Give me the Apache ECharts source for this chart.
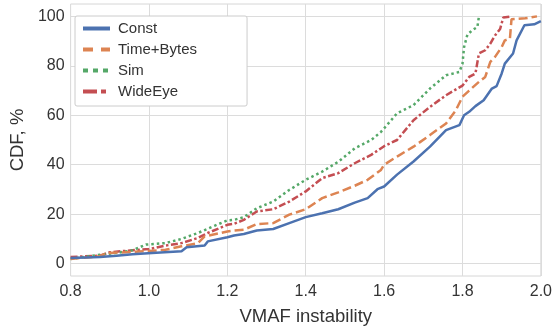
<!DOCTYPE html>
<html>
<head>
<meta charset="utf-8">
<script src="https://cdn.jsdelivr.net/npm/echarts@6/dist/echarts.min.js"></script>
<style>
html,body{margin:0;padding:0;background:#fff;}
#chart{width:555px;height:332px;}
</style>
</head>
<body>
<div id="chart"></div>
<script>
// ---- data ----
var seriesNames = ['Const', 'Time+Bytes', 'Sim', 'WideEye'];

var constX = [0.8, 0.875, 0.917, 0.958, 1.008, 1.083, 1.096, 1.142, 1.15, 1.2, 1.217, 1.242, 1.275, 1.317, 1.358, 1.4, 1.442, 1.483, 1.525, 1.558, 1.583, 1.6, 1.633, 1.675, 1.717, 1.758, 1.792, 1.804, 1.817, 1.833, 1.854, 1.875, 1.887, 1.9, 1.908, 1.929, 1.938, 1.958, 1.983, 2.0];
var constY = [2.3, 2.7, 3.2, 3.8, 4.3, 5.0, 6.6, 7.3, 9.0, 10.7, 11.4, 12.0, 13.4, 14.0, 16.4, 18.8, 20.4, 22.0, 24.7, 26.5, 30.1, 31.2, 36.0, 41.3, 47.3, 54.0, 56.0, 60.0, 61.4, 63.7, 66.1, 70.8, 71.8, 76.9, 80.9, 85.0, 90.3, 96.4, 96.8, 98.1];

var tbX = [0.8, 0.875, 0.892, 0.958, 1.042, 1.083, 1.125, 1.142, 1.2, 1.217, 1.242, 1.275, 1.317, 1.358, 1.4, 1.442, 1.483, 1.525, 1.558, 1.592, 1.6, 1.633, 1.675, 1.717, 1.758, 1.783, 1.8, 1.817, 1.842, 1.858, 1.871, 1.883, 1.9, 1.908, 1.921, 1.925, 1.96, 1.99];
var tbY = [1.9, 3.0, 4.3, 4.7, 5.6, 7.0, 8.3, 11.0, 13.0, 13.4, 13.7, 16.0, 16.4, 19.8, 22.0, 26.5, 28.8, 31.5, 33.9, 37.9, 40.0, 43.3, 47.3, 52.0, 56.7, 62.0, 67.5, 70.0, 73.5, 75.5, 81.6, 83.6, 87.6, 90.3, 91.0, 98.8, 99.2, 100];

var simX = [0.8, 0.875, 0.917, 0.958, 0.992, 1.042, 1.083, 1.125, 1.167, 1.2, 1.217, 1.242, 1.275, 1.317, 1.358, 1.4, 1.442, 1.483, 1.525, 1.567, 1.592, 1.6, 1.633, 1.675, 1.717, 1.758, 1.792, 1.8, 1.804, 1.8125, 1.825, 1.838, 1.842];
var simY = [1.9, 3.6, 4.3, 5.4, 7.7, 8.3, 10.0, 12.4, 15.3, 17.5, 17.7, 18.8, 22.4, 25.1, 29.8, 33.9, 37.2, 41.2, 46.6, 50.0, 53.3, 54.7, 60.8, 64.1, 70.8, 76.2, 77.5, 80.9, 87.6, 92.6, 94.4, 95.7, 100];

var weX = [0.8, 0.875, 0.9, 0.958, 1.0, 1.042, 1.083, 1.125, 1.15, 1.2, 1.217, 1.242, 1.275, 1.317, 1.358, 1.4, 1.442, 1.483, 1.525, 1.567, 1.6, 1.633, 1.675, 1.717, 1.758, 1.8, 1.817, 1.833, 1.842, 1.858, 1.871, 1.883, 1.896, 1.904, 1.908, 1.925];
var weY = [2.7, 3.2, 4.6, 5.4, 5.9, 7.3, 8.3, 10.4, 12.4, 15.7, 16.1, 17.7, 21.1, 22.0, 25.1, 29.2, 34.6, 36.6, 40.6, 44.0, 47.5, 50.0, 58.0, 63.4, 68.1, 72.0, 75.5, 76.9, 85.0, 86.3, 89.0, 92.3, 94.9, 99.5, 100, 100];

var xTicks = [0.8, 1.0, 1.2, 1.4, 1.6, 1.8, 2.0];
var yTicks = [0, 20, 40, 60, 80, 100];

// ---- build ----
function pairs(xs, ys) { return xs.map(function (x, i) { return [x, ys[i]]; }); }

var colors = ['#4C72B0', '#DD8452', '#55A868', '#C44E52'];
var dashes = ['solid', [9, 4], [2.5, 3], [7, 2.5, 2.5, 2.5]];
var legendDashes = ['solid', [10, 8], [5, 5], [14, 4, 5, 4]];
var xsList = [constX, tbX, simX, weX];
var ysList = [constY, tbY, simY, weY];

var font = '"Liberation Sans", Arial, Helvetica, sans-serif';
var textColor = '#333333';

var series = seriesNames.map(function (name, i) {
  return {
    name: name,
    type: 'line',
    data: pairs(xsList[i], ysList[i]),
    showSymbol: false,
    symbol: 'none',
    lineStyle: { color: colors[i], width: 2.5, type: dashes[i], cap: 'butt' },
    itemStyle: { color: colors[i] },
    z: 10 - i,
    animation: false
  };
});

var legendData = seriesNames.map(function (name, i) {
  return {
    name: name,
    itemStyle: { opacity: 0, borderWidth: 0 },
    lineStyle: { color: colors[i], width: 4, type: legendDashes[i], cap: 'butt' }
  };
});

var chart = echarts.init(document.getElementById('chart'), null, { renderer: 'canvas' });
chart.setOption({
  animation: false,
  backgroundColor: '#ffffff',
  grid: {
    left: 63, right: 12, top: 4, bottom: 56,
    show: true, borderColor: '#d6d6d6', borderWidth: 1, backgroundColor: 'transparent'
  },
  legend: {
    orient: 'vertical',
    left: 75, top: 16,
    data: legendData,
    itemWidth: 27, itemHeight: 12, itemGap: 6,
    padding: [5, 50, 7, 6],
    backgroundColor: '#ffffff',
    borderColor: '#cccccc', borderWidth: 1, borderRadius: 2,
    itemStyle: { opacity: 0, borderWidth: 0 },
    textStyle: { fontFamily: font, fontSize: 15, color: textColor, padding: [0, 0, 0, 3] },
    inactiveColor: '#ccc'
  },
  xAxis: {
    type: 'value',
    min: 0.8, max: 2.0, interval: 0.2,
    name: 'VMAF instability',
    nameLocation: 'middle', nameGap: 31,
    nameTextStyle: { fontFamily: font, fontSize: 18.5, color: textColor },
    axisLine: { show: false },
    axisTick: { show: false },
    axisLabel: {
      fontFamily: font, fontSize: 16, color: textColor, margin: 8,
      formatter: function (v) { return v.toFixed(1); }
    },
    splitLine: { show: true, lineStyle: { color: '#dcdcdc', width: 1 } }
  },
  yAxis: {
    type: 'value',
    min: -5, max: 105,
    name: 'CDF, %',
    nameLocation: 'middle', nameGap: 36, nameRotate: 90,
    nameTextStyle: { fontFamily: font, fontSize: 18.5, color: textColor },
    axisLine: { show: false },
    axisTick: { show: false, customValues: yTicks },
    axisLabel: {
      fontFamily: font, fontSize: 16, color: textColor, margin: 6,
      customValues: yTicks
    },
    splitLine: { show: true, lineStyle: { color: '#dcdcdc', width: 1 } }
  },
  series: series
});
</script>
</body>
</html>
